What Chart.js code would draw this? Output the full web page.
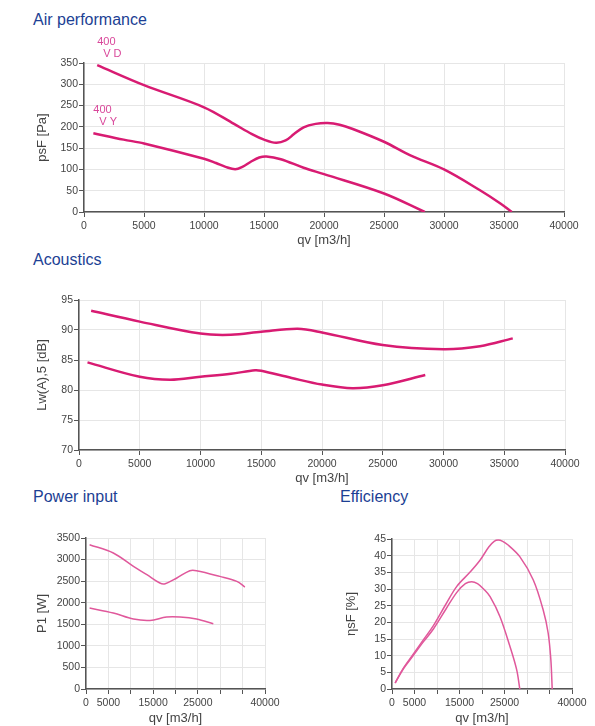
<!DOCTYPE html>
<html>
<head>
<meta charset="utf-8">
<script src="https://cdn.jsdelivr.net/npm/chart.js@4.4.1/dist/chart.umd.min.js"></script>
<style>
  body { margin: 0; background: #fff; width: 595px; height: 726px; position: relative; overflow: hidden;
         font-family: "Liberation Sans", Arial, sans-serif; }
  .ttl { position: absolute; color: #1c3f94; font-size: 16px; line-height: 16px; white-space: nowrap; }
  canvas { position: absolute; }
</style>
</head>
<body>
<div class="ttl" style="left:33px;top:12px">Air performance</div>
<div class="ttl" style="left:33px;top:252px">Acoustics</div>
<div class="ttl" style="left:33px;top:489px">Power input</div>
<div class="ttl" style="left:340px;top:489px">Efficiency</div>

<canvas id="air" width="595" height="218" style="left:0;top:30px"></canvas>
<canvas id="acoustics" width="595" height="206" style="left:0;top:280px"></canvas>
<canvas id="power" width="300" height="206" style="left:0;top:520px"></canvas>
<canvas id="efficiency" width="295" height="206" style="left:300px;top:520px"></canvas>

<script>
// ---- data ----
const xTicksBottom = [0, 5000, 15000, 25000, 40000]; // labels shown on the small charts

// Air performance, psF [Pa]
const airVdX = [1100, 5000, 10000, 12500, 14000, 15000, 16000, 16800, 17500, 18300, 19300, 20300, 21300, 22400, 25000, 27200, 30000, 33000, 34700, 35650];
const airVdY = [345, 298, 246, 207, 183, 170, 162.5, 168, 183, 199, 207, 209, 205, 195, 165, 133, 100, 51, 20, 0];
const airVyX = [780, 3300, 5000, 10000, 11000, 11800, 12600, 13200, 13900, 14600, 15200, 16400, 18300, 20000, 25000, 28400];
const airVyY = [185, 170, 161, 125, 115, 106, 100.5, 106, 118, 128, 130.5, 124, 104, 89, 43.5, 0];
const airLabels = [['400', 'V D'], ['400', 'V Y']];

// Acoustics, Lw(A),5 [dB]
const acVdX = [1000, 5000, 10000, 12500, 15000, 18000, 20000, 25000, 30000, 33000, 35700];
const acVdY = [93.2, 91.4, 89.4, 89.2, 89.7, 90.2, 89.6, 87.5, 86.8, 87.3, 88.6];
const acVyX = [700, 5000, 7500, 10000, 12500, 14500, 15000, 17500, 20000, 22500, 25000, 28500];
const acVyY = [84.6, 82.2, 81.7, 82.2, 82.7, 83.3, 83.2, 82.0, 80.9, 80.3, 80.8, 82.5];

// Power input, P1 [W]
const pwVdX = [800, 6100, 10600, 13600, 16500, 17700, 20300, 23200, 24700, 29900, 33700, 35500];
const pwVdY = [3345, 3152, 2842, 2650, 2457, 2441, 2573, 2742, 2742, 2610, 2494, 2364];
const pwVyX = [800, 6100, 10600, 14300, 18000, 21000, 24700, 28450];
const pwVyY = [1877, 1762, 1622, 1590, 1669, 1669, 1622, 1514];

// Efficiency, etasF [%]
const efVdX = [700, 2500, 4800, 7000, 9200, 12000, 14400, 17300, 19600, 21500, 22700, 23600, 24600, 25800, 28400, 31400, 33600, 34700, 35300, 35600];
const efVdY = [1.8, 6.2, 10.6, 14.8, 19.0, 25.5, 30.8, 35.0, 38.7, 42.6, 44.3, 44.7, 44.3, 43.2, 39.7, 32.7, 23.7, 16.8, 8.8, 0];
const efVyX = [700, 2500, 4800, 7000, 9200, 12000, 14400, 16300, 17700, 19000, 20500, 21800, 24000, 26200, 27700, 28400];
const efVyY = [1.8, 6.0, 10.2, 14.2, 18.0, 24.0, 29.0, 31.6, 32.2, 31.6, 29.8, 27.7, 21.7, 12.8, 5.8, 0];

const pts = (xs, ys) => xs.map((x, i) => ({ x: x, y: ys[i] }));
const TXT = '#444';
const FONT = '"Liberation Sans", Arial, sans-serif';

// draws the "400 / V D" tags next to the first point of each curve
const curveTags = {
  id: 'curveTags',
  afterDatasetsDraw(chart, args, opts) {
    if (!opts.labels) return;
    const ctx = chart.ctx;
    ctx.save();
    ctx.fillStyle = '#d9479a';
    ctx.font = '11px ' + FONT;
    ctx.textBaseline = 'middle';
    opts.labels.forEach((lines, i) => {
      const p = chart.getDatasetMeta(i).data[0];
      ctx.fillText(lines[0], p.x, p.y - 23);
      ctx.fillText(lines[1], p.x + 6, p.y - 11);
    });
    ctx.restore();
  }
};

function makeChart(id, cfg) {
  const lineOpts = {
    borderColor: cfg.color, borderWidth: cfg.width, pointRadius: 0,
    tension: 0.35, fill: false
  };
  return new Chart(document.getElementById(id), {
    type: 'line',
    data: {
      datasets: cfg.series.map(s => Object.assign({ data: s }, lineOpts))
    },
    plugins: [curveTags],
    options: {
      responsive: false,
      animation: false,
      layout: { padding: cfg.pad },
      plugins: { legend: { display: false }, tooltip: { enabled: false }, curveTags: { labels: cfg.tags } },
      scales: {
        x: {
          type: 'linear', min: 0, max: 40000,
          afterFit: s => { s.height = cfg.xH; },
          grid: { color: '#e6e6e6', tickColor: '#555', tickLength: 5 },
          border: { color: '#555', width: 1.5 },
          ticks: {
            stepSize: 5000, autoSkip: false, maxRotation: 0, padding: 3,
            color: TXT, font: { size: 10.5, family: FONT },
            callback: v => (!cfg.xShown || cfg.xShown.includes(v)) ? String(v) : ''
          },
          title: { display: true, text: 'qv [m3/h]', color: TXT, font: { size: 13, family: FONT }, padding: { top: 0, bottom: 0 } }
        },
        y: {
          min: cfg.yMin, max: cfg.yMax,
          afterFit: s => { s.width = cfg.yW; },
          grid: { color: '#e6e6e6', tickColor: '#555', tickLength: 5 },
          border: { color: '#555', width: 1.5 },
          ticks: {
            stepSize: cfg.yStep, padding: 1, color: TXT, font: { size: 10.5, family: FONT },
            callback: v => String(v)
          },
          title: { display: true, text: cfg.yTitle, color: TXT, font: { size: 13, family: FONT }, padding: { top: 4, bottom: 0 } }
        }
      }
    }
  });
}

makeChart('air', {
  series: [pts(airVdX, airVdY), pts(airVyX, airVyY)], tags: airLabels,
  color: '#d81b72', width: 2.5,
  pad: { top: 33, left: 31, right: 31, bottom: 0 }, yW: 53, xH: 36,
  yMin: 0, yMax: 350, yStep: 50, yTitle: 'psF [Pa]'
});
makeChart('acoustics', {
  series: [pts(acVdX, acVdY), pts(acVyX, acVyY)],
  color: '#d81b72', width: 2.5,
  pad: { top: 20, left: 31, right: 30, bottom: 0 }, yW: 48, xH: 36,
  yMin: 70, yMax: 95, yStep: 5, yTitle: 'Lw(A),5 [dB]'
});
makeChart('power', {
  series: [pts(pwVdX, pwVdY), pts(pwVyX, pwVyY)], xShown: xTicksBottom,
  color: '#e0589b', width: 1.5,
  pad: { top: 18, left: 31, right: 35, bottom: 0 }, yW: 55, xH: 37,
  yMin: 0, yMax: 3500, yStep: 500, yTitle: 'P1 [W]'
});
makeChart('efficiency', {
  series: [pts(efVdX, efVdY), pts(efVyX, efVyY)], xShown: xTicksBottom,
  color: '#e0589b', width: 1.5,
  pad: { top: 19, left: 40, right: 23, bottom: 0 }, yW: 52, xH: 37,
  yMin: 0, yMax: 45, yStep: 5, yTitle: 'ηsF [%]'
});
</script>
</body>
</html>
